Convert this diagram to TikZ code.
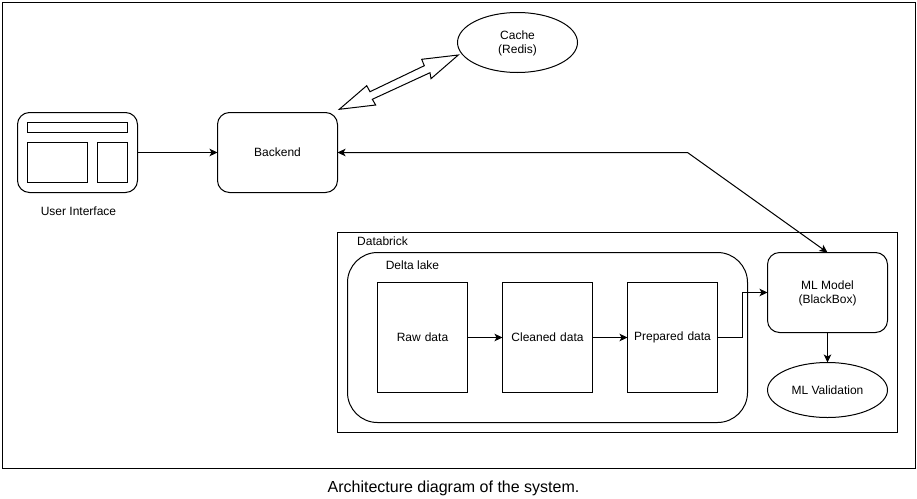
\documentclass[tikz,border=0pt]{standalone}
\usepackage{fontspec}
\setmainfont{Liberation Sans}
\usetikzlibrary{arrows.meta,shapes.geometric,positioning}
\tikzset{
  base/.style={draw=black,line width=1pt,inner sep=0pt,outer sep=0pt,font=\fontsize{12}{14}\selectfont,align=center,fill=white},
  boxn/.style={base,rectangle,minimum width=#1},
  roundn/.style={base,rectangle,rounded corners=12pt,minimum width=120pt,minimum height=80pt},
  elln/.style={base,ellipse,minimum width=120pt},
  datan/.style={base,rectangle,minimum width=90pt,minimum height=110pt,text width=90pt},
  lab/.style={inner sep=0pt,outer sep=0pt,font=\fontsize{12}{14}\selectfont},
  conn/.style={draw=black,line width=1pt,-{Stealth[length=8pt,width=7.5pt,inset=2pt]}},
  connb/.style={draw=black,line width=1pt,{Stealth[length=8pt,width=7.5pt,inset=2pt]}-{Stealth[length=8pt,width=7.5pt,inset=2pt]}},
  line/.style={draw=black,line width=1pt}
}
\begin{document}
\begin{tikzpicture}[x=1pt,y=-1pt]
\useasboundingbox (0,0) rectangle (917,498);
\fill[white] (0,0) rectangle (917,498);
\node[boxn=913pt,minimum height=466pt,fill=none] (frame) at (458.5,235.5) {};
\node[base,rectangle,minimum width=560pt,minimum height=200pt] (databrick) at (617.5,332.5) {};
\node[base,rectangle,rounded corners=30pt,minimum width=400pt,minimum height=170pt] (delta) at (547.5,337.5) {};
\node[roundn] (ui) at (77.5,152.5) {};
\node[boxn=100pt,minimum height=10pt] (uitop) at (77.5,127.5) {};
\node[boxn=60pt,minimum height=40pt] (uileft) at (57.5,162.5) {};
\node[boxn=30pt,minimum height=40pt] (uiright) at (112.5,162.5) {};
\node[roundn] (backend) at (277.5,152.5) {Backend};
\node[elln,minimum height=60pt] (cache) at (517.5,42.5) {\rule{0pt}{11pt}Cache\\(Redis)};
\node[datan] (raw) at (422.5,337.5) {Raw data};
\node[datan] (cleaned) at (547.5,337.5) {Cleaned data};
\node[datan] (prepared) at (672.5,337.5) {Prepared data};
\node[roundn] (ml) at (827.5,292.5) {\rule{0pt}{11pt}ML Model\\(BlackBox)};
\node[elln,minimum height=55pt] (valid) at (827.5,390) {ML Validation};
\node[lab] (uilabel) at (78.5,211.5) {User Interface};
\node[lab] (dblabel) at (382.5,241) {Databrick};
\node[lab] (dllabel) at (412.5,265) {Delta lake};
\node[inner sep=0pt,outer sep=0pt,font=\fontsize{16}{18}\selectfont] (caption) at (453.5,488.5) {Architecture diagram of the system.};
\coordinate (bend) at (687.5,152.5);
\coordinate (mid) at (742.5,292.5);
\draw[conn] (ui.east) -- (backend.west);
\draw[conn] (raw.east) -- (cleaned.west);
\draw[conn] (cleaned.east) -- (prepared.west);
\draw[conn] (prepared.east) -- (prepared.east -| mid) -- (mid) -- (ml.west);
\draw[conn] (ml.south) -- (valid.north);
\draw[connb] (backend.east) -- (bend) -- (ml.north);
\draw[line,line join=miter,fill=white] (339.3,109.3) -- (375.7,105) -- (372.3,99.3) -- (430,72.7) -- (431,78.7) -- (458.3,55) -- (421.7,59.3) -- (424.3,65.7) -- (370,91.7) -- (366.7,85.7) -- cycle;
\end{tikzpicture}
\end{document}
